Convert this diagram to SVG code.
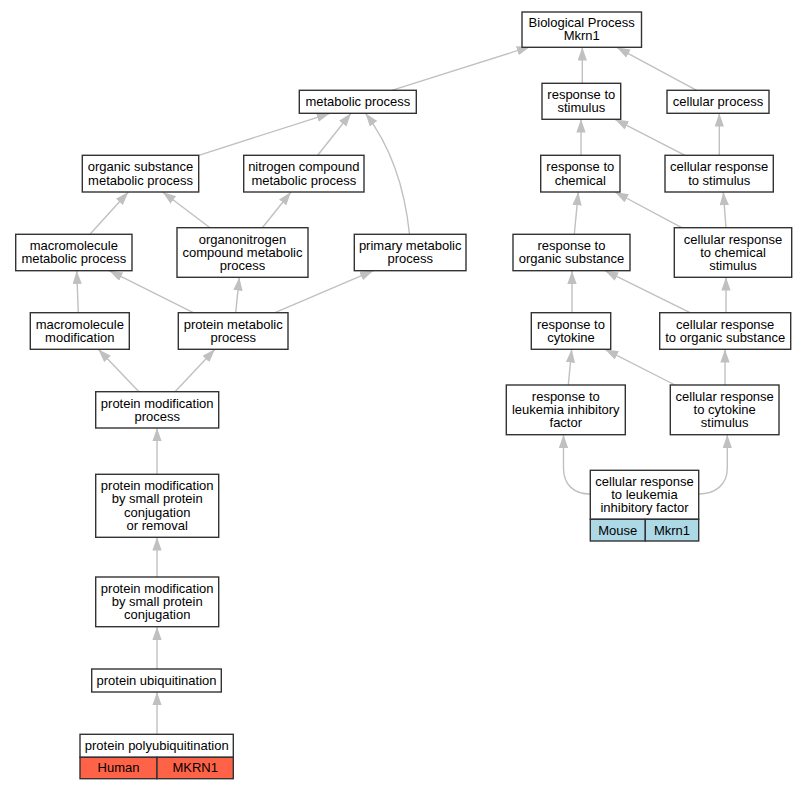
<svg xmlns="http://www.w3.org/2000/svg" width="807" height="789" viewBox="0 0 807 789">
<defs>
<marker id="ah" markerUnits="userSpaceOnUse" markerWidth="14" markerHeight="10" refX="13.3" refY="4.65" orient="auto">
<path d="M0,0 L13.3,4.65 L0,9.3 z" fill="#c0c0c0"/>
</marker>
<style>
.n rect{fill:#fff;stroke:#333;stroke-width:1.4}
.n rect.h{fill:#ff6347}
.n rect.m{fill:#add8e6}
text{font-family:"Liberation Sans",Arial,sans-serif;font-size:13px;fill:#000;text-anchor:middle}
#edges path{fill:none;stroke:#c0c0c0;stroke-width:1.4;marker-end:url(#ah)}
</style>
</defs>
<rect width="807" height="789" fill="#fff"/>
<g id="edges">
<path d="M391.7,90.3 L530,46.7"/>
<path d="M582.3,83.3 L582.3,47.3"/>
<path d="M696.7,90.3 L616.7,47.3"/>
<path d="M581,155.3 L581,119.3"/>
<path d="M685,155.3 L615,119.3"/>
<path d="M719.3,155.3 L719.3,113.3"/>
<path d="M574.3,234.3 L578.3,192"/>
<path d="M681.7,227.7 L615,192"/>
<path d="M726,227.7 L723.3,192"/>
<path d="M572,312.7 L572,270.7"/>
<path d="M690,312.7 L605,270.7"/>
<path d="M726,312.7 L726,277.3"/>
<path d="M568.3,385 L571.7,349.3"/>
<path d="M675,385 L605,349.3"/>
<path d="M725,385 L725,349.3"/>
<path d="M590.3,494 C574,494 563.5,485 563.5,468 L563.5,434.7"/>
<path d="M698.7,494 C715,494 727.3,485 727.3,468 L727.3,434.7"/>
<path d="M198.7,155.3 L330,113.3"/>
<path d="M317.7,155.3 L351,113.3"/>
<path d="M409.5,234.3 C405,190 392,148 365.5,113.3"/>
<path d="M90,234.3 L128.3,192"/>
<path d="M210,227.7 L162.7,192"/>
<path d="M262.3,227.7 L291,192"/>
<path d="M78.3,312.7 L76.7,270.7"/>
<path d="M193.3,312.7 L109.3,270.7"/>
<path d="M235.7,312.7 L239.3,277.3"/>
<path d="M275,312.7 L373.3,270.7"/>
<path d="M139,391.7 L98.3,349.3"/>
<path d="M175,391.7 L215,349.3"/>
<path d="M157,474.3 L157,428"/>
<path d="M157,577 L157,537.3"/>
<path d="M157,669 L157,626.7"/>
<path d="M157,734.3 L157,692"/>
</g>
<g id="bp" class="n"><rect x="522" y="12" width="119.5" height="35.3"/><text x="581.7" y="26.9">Biological Process</text><text x="581.7" y="40.2">Mkrn1</text></g>
<g id="metabolic" class="n"><rect x="299.3" y="90.3" width="117" height="23"/><text x="357.8" y="106.1">metabolic process</text></g>
<g id="organic" class="n"><rect x="82.3" y="155.3" width="116.4" height="36.7"/><text x="140.5" y="171.2">organic substance</text><text x="140.5" y="184.6">metabolic process</text></g>
<g id="nitrogen" class="n"><rect x="243.7" y="155.3" width="120.3" height="36.7"/><text x="303.8" y="171.2">nitrogen compound</text><text x="303.8" y="184.6">metabolic process</text></g>
<g id="macromet" class="n"><rect x="15.7" y="234.3" width="116.3" height="36.4"/><text x="73.8" y="250.1">macromolecule</text><text x="73.8" y="263.4">metabolic process</text></g>
<g id="organonitrogen" class="n"><rect x="177" y="227.7" width="131" height="49.6"/><text x="242.5" y="243.5">organonitrogen</text><text x="242.5" y="256.8">compound metabolic</text><text x="242.5" y="270.1">process</text></g>
<g id="primary" class="n"><rect x="354.3" y="234.3" width="111.7" height="36.4"/><text x="410.2" y="250.1">primary metabolic</text><text x="410.2" y="263.4">process</text></g>
<g id="macromod" class="n"><rect x="30.3" y="312.7" width="99" height="36.6"/><text x="79.8" y="328.6">macromolecule</text><text x="79.8" y="341.9">modification</text></g>
<g id="proteinmet" class="n"><rect x="178.3" y="312.7" width="109.7" height="36.6"/><text x="233.2" y="328.6">protein metabolic</text><text x="233.2" y="341.9">process</text></g>
<g id="protmod" class="n"><rect x="95.7" y="391.7" width="123" height="36.3"/><text x="157.2" y="407.5">protein modification</text><text x="157.2" y="420.8">process</text></g>
<g id="pmbspcr" class="n"><rect x="95.7" y="474.3" width="123" height="63"/><text x="157.2" y="490.1">protein modification</text><text x="157.2" y="503.4">by small protein</text><text x="157.2" y="516.7">conjugation</text><text x="157.2" y="530">or removal</text></g>
<g id="pmbspc" class="n"><rect x="95.7" y="577" width="123" height="49.7"/><text x="157.2" y="592.8">protein modification</text><text x="157.2" y="606.1">by small protein</text><text x="157.2" y="619.4">conjugation</text></g>
<g id="ubiq" class="n"><rect x="91.7" y="669" width="129.6" height="23"/><text x="156.5" y="684.8">protein ubiquitination</text></g>
<g id="polyubiq" class="n"><rect x="80" y="734.3" width="153.3" height="23"/><rect class="h" x="80" y="757.3" width="77" height="21.4"/><rect class="h" x="157" y="757.3" width="76.3" height="21.4"/><text x="156.7" y="750.1">protein polyubiquitination</text><text x="118.5" y="772.3">Human</text><text x="195.2" y="772.3">MKRN1</text></g>
<g id="rstim" class="n"><rect x="542" y="83.3" width="78.7" height="36"/><text x="581.3" y="98.9">response to</text><text x="581.3" y="112.2">stimulus</text></g>
<g id="cellproc" class="n"><rect x="667" y="90.3" width="102" height="23"/><text x="718" y="106.1">cellular process</text></g>
<g id="rchem" class="n"><rect x="540.7" y="155.3" width="79.3" height="36.7"/><text x="580.3" y="171.2">response to</text><text x="580.3" y="184.6">chemical</text></g>
<g id="crstim" class="n"><rect x="665" y="155.3" width="108.3" height="36.7"/><text x="719.2" y="171.2">cellular response</text><text x="719.2" y="184.6">to stimulus</text></g>
<g id="rorg" class="n"><rect x="513" y="234.3" width="117" height="36.4"/><text x="571.5" y="250.1">response to</text><text x="571.5" y="263.4">organic substance</text></g>
<g id="crchem" class="n"><rect x="674.3" y="227.7" width="117.4" height="49.6"/><text x="733" y="243.5">cellular response</text><text x="733" y="256.8">to chemical</text><text x="733" y="270.1">stimulus</text></g>
<g id="rcyt" class="n"><rect x="531.3" y="312.7" width="79.4" height="36.6"/><text x="571" y="328.6">response to</text><text x="571" y="341.9">cytokine</text></g>
<g id="crorg" class="n"><rect x="659.7" y="312.7" width="131" height="36.6"/><text x="725.2" y="328.6">cellular response</text><text x="725.2" y="341.9">to organic substance</text></g>
<g id="rlif" class="n"><rect x="506.3" y="385" width="119" height="49.7"/><text x="565.8" y="400.8">response to</text><text x="565.8" y="414.1">leukemia inhibitory</text><text x="565.8" y="427.4">factor</text></g>
<g id="crcyt" class="n"><rect x="670.3" y="385" width="108.7" height="49.7"/><text x="724.7" y="400.8">cellular response</text><text x="724.7" y="414.1">to cytokine</text><text x="724.7" y="427.4">stimulus</text></g>
<g id="crlif" class="n"><rect x="590.3" y="470.3" width="108.4" height="49"/><rect class="m" x="590.3" y="519.3" width="55" height="21.7"/><rect class="m" x="645.3" y="519.3" width="53.4" height="21.7"/><text x="644.5" y="485.8">cellular response</text><text x="644.5" y="499.1">to leukemia</text><text x="644.5" y="512.4">inhibitory factor</text><text x="617.8" y="534.5">Mouse</text><text x="672" y="534.5">Mkrn1</text></g>
</svg>
